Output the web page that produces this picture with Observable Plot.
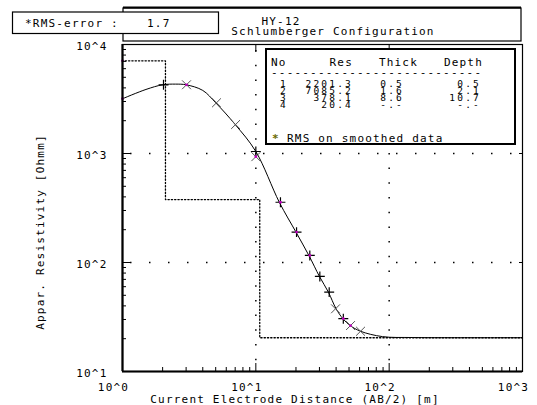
<!DOCTYPE html>
<html>
<head>
<meta charset="utf-8">
<script src="https://cdn.jsdelivr.net/npm/d3@7"></script>
<script src="https://cdn.jsdelivr.net/npm/@observablehq/plot@0.6"></script>
<style>
  html, body { margin: 0; padding: 0; background: white; }
  #chart svg { display: block; }
</style>
</head>
<body>
<div id="chart"></div>
<script>
// ---- data ----
const titleLine1 = "HY-12";
const titleLine2 = "Schlumberger Configuration";
const rmsLabel = "*RMS-error :";
const rmsValue = "1.7";
const xTitle = "Current Electrode Distance (AB/2) [m]";
const yTitle = "Appar. Resistivity [Ohmm]";
const xTicks = [1, 10, 100, 1000];
const yTicks = [10, 100, 1000, 10000];

// layered model
const layerNo = ["1", "2", "3", "4"];
const layerRes = [2201.3, 7085.2, 378.1, 20.4];
const layerThick = ["0.5", "1.6", "8.6", "-.-"];
const layerDepth = ["0.5", "2.1", "10.7", "-.-"];
const layerTop = [0.1, 0.5, 2.1, 10.7];   // depth of each layer top (surface clipped)
const modelEnd = 1000;

// smoothed apparent-resistivity curve
const curveAB  = [1, 1.5, 2, 2.5, 3, 4, 5, 7, 10, 15, 20, 25, 30, 35, 40, 45, 51, 61, 89, 150, 450, 1000];
const curveRho = [3180, 3870, 4270, 4330, 4270, 3790, 2920, 1845, 1043, 357, 190, 116, 74.5, 53.5, 37.6, 30.5, 26.4, 23.4, 20.9, 20.5, 20.4, 20.4];

// field data markers
const plusAB  = [2.03, 10, 15.3, 20.2, 25.4, 30.2, 35.5, 45.3];
const plusRho = [4270, 1043, 357, 190, 116, 74.5, 53.5, 30.5];
const crossAB  = [3.02, 5.07, 7.05, 10, 39.6, 51.3, 61];
const crossRho = [4270, 2920, 1845, 935, 37.6, 26.4, 23.4];
const smoothAB  = [1, 1, 3.02, 10, 15.3, 20.2, 25.4, 45.3, 51.3];
const smoothRho = [7085, 3180, 4270, 935, 357, 190, 116, 30.5, 26.4];

const legendNote = "RMS on smoothed data";

// ---- build tables ----
const modelPts = layerTop.map((t, i) => ({x: t, y: layerRes[i]})).concat([{x: modelEnd, y: layerRes[layerRes.length - 1]}]);
const curve = curveAB.map((x, i) => ({x, y: curveRho[i]}));
const plusPts = plusAB.map((x, i) => ({x, y: plusRho[i]}));
const crossPts = crossAB.map((x, i) => ({x, y: crossRho[i]}));
const smoothPts = smoothAB.map((x, i) => ({x, y: smoothRho[i]}));
const minor = (lo, hi) => { const o = []; for (let p = lo; p < hi; p++) for (let m = 2; m <= 9; m++) o.push(m * 10 ** p); return o; };
const fmt = d => "10^" + Math.round(Math.log10(d));

const FONT = "DejaVu Sans Mono";
const W = 537, H = 405, ML = 122, MR = 15, MT = 44, MB = 34;

const plot = Plot.plot({
  width: W, height: H,
  marginLeft: ML, marginRight: MR, marginTop: MT, marginBottom: MB,
  x: {type: "log", domain: [1, 1000]},
  y: {type: "log", domain: [10, 10000]},
  style: {fontFamily: FONT, fontSize: "11px", background: "white", color: "black", overflow: "visible", letterSpacing: "1.2px"},
  marks: [
    // dotted grid
    Plot.ruleY([100, 1000], {stroke: "black", strokeWidth: 1.5, strokeDasharray: "1.5,17.5", strokeDashoffset: -8}),
    Plot.ruleX([10, 100], {stroke: "black", strokeWidth: 1.5, strokeDasharray: "1.5,13.2", strokeDashoffset: -6}),
    // layered model (dotted step line)
    Plot.line(modelPts, {x: "x", y: "y", curve: "step-after", stroke: "black", strokeWidth: 1.3, strokeDasharray: "1.3,2", clip: true}),
    // smoothed curve
    Plot.line(curve, {x: "x", y: "y", curve: "catmull-rom", stroke: "black", strokeWidth: 1}),
    // markers
    Plot.dot(crossPts, {x: "x", y: "y", symbol: "times", r: 4.1, stroke: "#555", strokeWidth: 1}),
    Plot.dot(plusPts, {x: "x", y: "y", symbol: "plus", r: 3.3, stroke: "black", strokeWidth: 1.2}),
    Plot.dot(smoothPts, {x: "x", y: "y", r: 1.4, fill: "#c000c0", stroke: "none"}),
    // frame and axes lines
    Plot.frame({stroke: "black", strokeWidth: 1.2}),
    Plot.ruleX([1], {stroke: "black", strokeWidth: 2.2}),
    Plot.ruleY([10], {stroke: "black", strokeWidth: 2.2}),
    // ticks
    Plot.axisY({anchor: "left", ticks: yTicks, tickSize: -8, tickFormat: () => "", label: null}),
    Plot.axisY({anchor: "left", ticks: minor(1, 4), tickSize: -4, tickFormat: () => "", label: null}),
    Plot.axisY({anchor: "right", ticks: [100, 1000], tickSize: -4, tickFormat: () => "", label: null}),
    Plot.axisX({anchor: "bottom", ticks: [10, 100], tickSize: -8, tickFormat: () => "", label: null}),
    Plot.axisX({anchor: "bottom", ticks: minor(0, 3), tickSize: -4, tickFormat: () => "", label: null}),
    Plot.axisX({anchor: "top", ticks: [10, 100], tickSize: -7, tickFormat: () => "", label: null}),
    // tick labels
    Plot.axisY({anchor: "left", ticks: yTicks, tickSize: 0, tickPadding: 15, dy: 1.5, tickFormat: fmt, label: null, fontSize: 11}),
    Plot.axisX({anchor: "bottom", ticks: xTicks, tickSize: 0, tickPadding: 12, dx: -9, tickFormat: fmt, label: null, fontSize: 11})
  ]
});

const svg = d3.select(plot);
const txt = (g, s, x, y, anchor = "start", extra = {}) => {
  const t = g.append("text").attr("x", x).attr("y", y).attr("dy", "0.35em")
    .attr("text-anchor", anchor).attr("font-family", FONT).attr("font-size", extra.size || 11)
    .style("letter-spacing", (extra.ls || 1.2) + "px").attr("fill", extra.fill || "black").text(s);
  if (extra.transform) t.attr("transform", extra.transform);
  return t;
};

// header box
const head = svg.append("g");
head.append("rect").attr("x", 123).attr("y", 8).attr("width", 398).attr("height", 33)
  .attr("fill", "white").attr("stroke", "black").attr("stroke-width", 1.2);
head.append("line").attr("x1", 123).attr("x2", 521).attr("y1", 7.5).attr("y2", 7.5).attr("stroke", "black").attr("stroke-width", 2);
txt(head, titleLine1, 281, 21, "middle");
txt(head, titleLine2, 333, 31.5, "middle");

// RMS box
const rms = svg.append("g");
rms.append("rect").attr("x", 12.5).attr("y", 12).attr("width", 206).attr("height", 21.5)
  .attr("fill", "white").attr("stroke", "black").attr("stroke-width", 1.2);
txt(rms, rmsLabel, 25, 23);
txt(rms, rmsValue, 147, 23);

// legend table box
const leg = svg.append("g");
leg.append("rect").attr("x", 266).attr("y", 49).attr("width", 249).attr("height", 95)
  .attr("fill", "white").attr("stroke", "black").attr("stroke-width", 2);
txt(leg, "No", 271, 62);
txt(leg, "Res", 353, 62, "end");
txt(leg, "Thick", 418, 62, "end");
txt(leg, "Depth", 483, 62, "end");
txt(leg, "-".repeat(27), 271, 72);
layerNo.forEach((n, i) => {
  const y = 83.5 + i * 7.1;
  const o = {size: 9.5, ls: 2.2};
  txt(leg, n, 288, y, "end", o);
  txt(leg, layerRes[i].toFixed(1), 353, y, "end", o);
  txt(leg, layerThick[i], 404, y, "end", o);
  txt(leg, layerDepth[i], 481, y, "end", o);
});
txt(leg, "*", 272, 138, "start", {fill: "#6b6b00"}).attr("font-weight", "bold");
txt(leg, legendNote, 287, 138);

// axis titles
txt(svg, xTitle, 295, 399, "middle");
txt(svg, yTitle, 0, 0, "middle", {transform: "translate(40,232) rotate(-90)"});

document.getElementById("chart").appendChild(plot);
</script>
</body>
</html>
